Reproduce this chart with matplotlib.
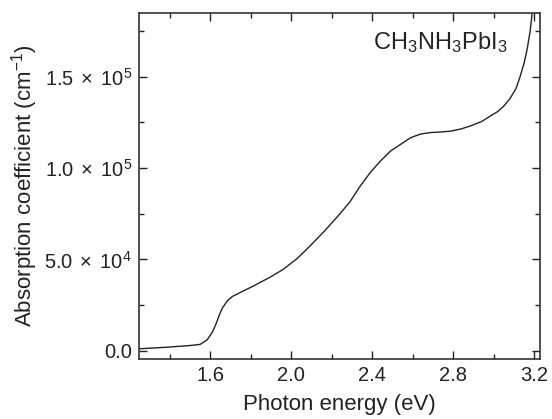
import matplotlib
matplotlib.use('Agg')
import matplotlib.pyplot as plt
from matplotlib.ticker import MultipleLocator, FuncFormatter

plt.rcParams['font.family'] = ['Liberation Sans', 'DejaVu Sans']
plt.rcParams['mathtext.fontset'] = 'custom'
plt.rcParams['mathtext.rm'] = 'Liberation Sans'
plt.rcParams['mathtext.it'] = 'Liberation Sans:italic'
plt.rcParams['mathtext.bf'] = 'Liberation Sans:bold'

# Dados
energia = [1.25, 1.39, 1.50, 1.55, 1.585, 1.61, 1.627, 1.645, 1.66, 1.685, 1.71,
           1.76, 1.81, 1.90, 1.96, 2.03, 2.09, 2.16, 2.23, 2.29, 2.34, 2.39,
           2.44, 2.49, 2.54, 2.59, 2.64, 2.69, 2.74, 2.79, 2.84, 2.89, 2.94,
           2.98, 3.02, 3.05, 3.08, 3.11, 3.13, 3.15, 3.165, 3.18, 3.19, 3.21]
absorcao = [1000, 1900, 2800, 3400, 5900, 10000, 14100, 19500, 23300, 27300, 29700,
            32500, 35200, 40500, 44500, 50500, 57000, 65000, 73600, 81500, 90000, 97500,
            103800, 109300, 113000, 116700, 118700, 119500, 119800, 120300, 121500, 123300, 125500,
            128300, 131000, 134000, 138000, 143500, 150000, 157500, 165000, 175000, 185000, 195000]

rotulo_material = r'CH$_3$NH$_3$PbI$_3$'

fig = plt.figure(figsize=(5.52, 4.19), dpi=100)
ax = fig.add_axes([0.252, 0.144, 0.726, 0.825])

ax.plot(energia, absorcao, color='#222222', lw=1.0)

ax.set_xlim(1.249, 3.228)
ax.set_ylim(-4400, 185000)

ax.xaxis.set_major_locator(MultipleLocator(0.4))
ax.xaxis.set_minor_locator(MultipleLocator(0.2))
ax.yaxis.set_major_locator(MultipleLocator(50000))
ax.yaxis.set_minor_locator(MultipleLocator(25000))


def formato_y(v, pos):
    if abs(v) < 1:
        return '0.0'
    exp = 5 if v >= 1e5 else 4
    return r'%.1f$\;\times\;$10$^{%d}$' % (v / 10**exp, exp)


ax.yaxis.set_major_formatter(FuncFormatter(formato_y))
ax.xaxis.set_major_formatter(FuncFormatter(lambda v, p: '%.1f' % v))

ax.tick_params(which='both', direction='in', top=True, right=True,
               labelsize=14.5, colors='#222222', width=1.0)
ax.tick_params(which='major', length=6, pad=5)
ax.tick_params(which='minor', length=3.5)
for s in ax.spines.values():
    s.set_linewidth(1.2)
    s.set_color('#333333')

ax.set_xlabel('Photon energy (eV)', fontsize=16, color='#222222', labelpad=7)
ax.set_ylabel(r'Absorption coefficient (cm$^{-1}$)', fontsize=16, color='#222222', labelpad=3)

ax.text(0.92, 0.915, rotulo_material, transform=ax.transAxes, ha='right', va='center',
        fontsize=17, color='#222222')

fig.savefig('out.png', dpi=100)
